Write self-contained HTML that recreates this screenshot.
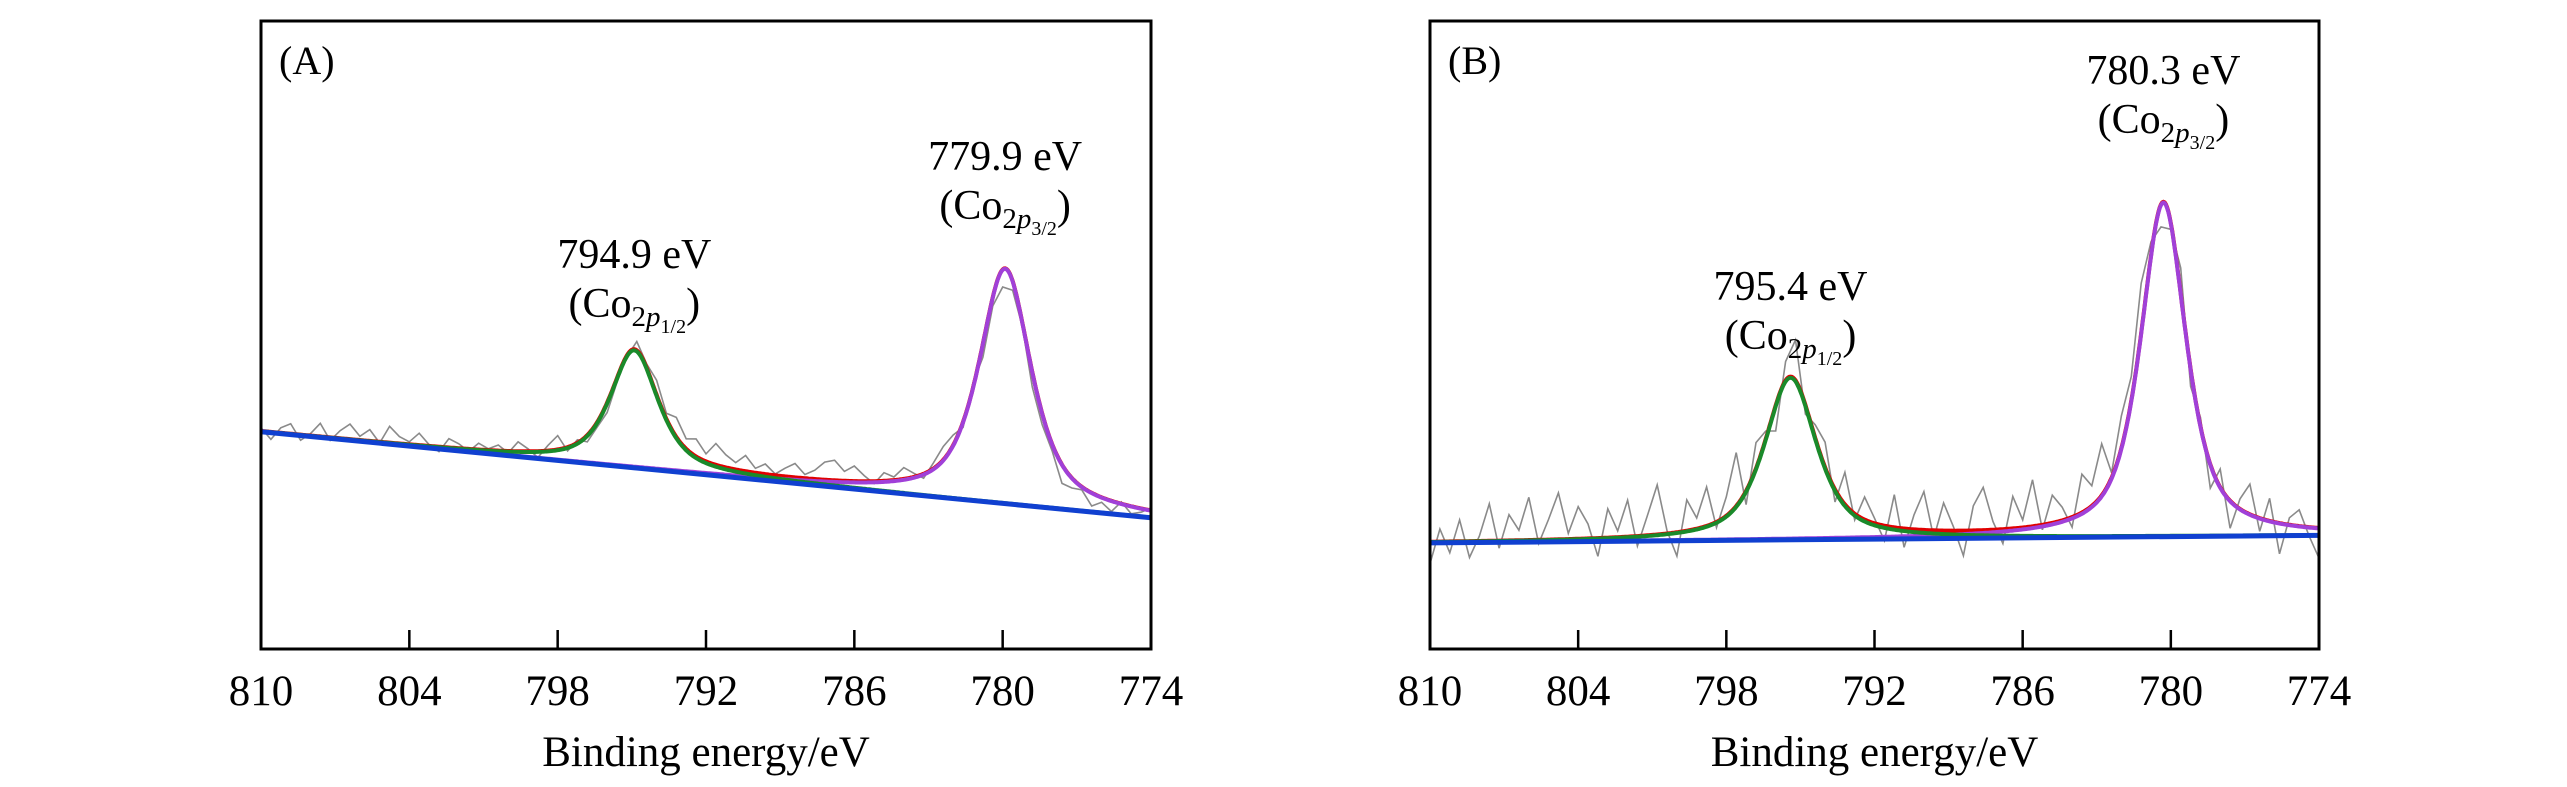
<!DOCTYPE html>
<html><head><meta charset="utf-8"><style>
body{margin:0;background:#fff}
svg{display:block;font-family:"Liberation Serif",serif}
</style></head><body>
<svg id="chart" width="2567" height="787" viewBox="0 0 2567 787" xmlns="http://www.w3.org/2000/svg"></svg>
<script>
// ---- Data ----
const xTicks = [810, 804, 798, 792, 786, 780, 774];
// Panel A
const baseA = [34.6, 20.9];              // baseline intensity at 810 eV and 774 eV
const peaksA_center = [794.9, 779.9];
const peaksA_amp = [18.7, 37.4];
const peaksA_width = [1.15, 1.25];
const labelsA = ["794.9 eV", "779.9 eV"];
const subsA = ["1/2", "3/2"];
const noiseA = [0.5,-1.2,0.8,1.6,-0.9,0.3,2.1,-0.5,1.2,2.4,0.6,1.8,-0.2,2.6,1.1,0.4,1.9,0.2,-0.8,1.4,
 0.7,-0.4,1.0,0.2,0.9,-0.3,1.5,0.4,-1.0,0.8,2.2,-0.6,0.5,-1.1,-0.8,-1.6,-0.7,-0.2,1.4,0.6,
 2.3,0.9,3.1,1.6,2.8,1.2,3.4,2.0,1.1,2.5,0.7,1.6,0.2,1.3,2.2,0.6,1.4,2.8,3.2,1.5,
 2.4,0.9,-0.4,1.3,0.5,1.8,0.6,-0.7,0.9,2.1,1.6,-0.9,0.8,-2.2,-1.4,-2.8,-1.5,-0.6,-2.4,-1.8,
 -1.1,-3.0,-1.6,-0.5,-2.1,-0.8,-1.7,0.3,-1.2,-0.6,0.4];
// Panel B
const baseB = [16.9, 18.1];
const peaksB_center = [795.4, 780.3];
const peaksB_amp = [25.8, 53.2];
const peaksB_width = [1.25, 1.1];
const labelsB = ["795.4 eV", "780.3 eV"];
const subsB = ["1/2", "3/2"];
const noiseB = [-3.5,2.0,-1.8,3.4,-2.6,0.8,5.9,-1.2,4.1,1.6,6.8,-0.6,3.2,7.4,0.9,5.1,2.3,-2.9,4.6,1.0,
 5.8,-1.6,3.1,7.9,0.4,-3.8,4.9,1.7,6.2,-0.9,3.0,8.5,-2.2,4.1,1.2,-4.1,3.0,6.4,-1.5,2.1,
 4.0,-2.0,5.1,-1.0,3.6,0.8,-2.4,5.2,-3.0,2.3,6.1,-1.2,4.4,0.6,-4.0,3.9,6.8,1.3,-2.3,5.1,
 1.2,7.4,-0.8,4.4,2.1,-1.6,6.1,3.2,8.2,0.8,5.1,3.8,7.9,2.2,-3.6,-1.0,4.1,-2.8,1.4,-3.8,
 2.9,-4.4,1.6,4.8,-2.1,3.6,-4.9,1.1,2.6,-1.4,-4.8];

// ---- Layout ----
const NS = "http://www.w3.org/2000/svg";
const svg = document.getElementById('chart');
const plotTop = 21, plotBot = 649;
function mk(tag, attrs, parent){const e=document.createElementNS(NS,tag);for(const k in attrs)e.setAttribute(k,attrs[k]);(parent||svg).appendChild(e);return e;}
function pv(x,c,a,w){const d=(x-c)/w;return a*(0.7/(1+d*d)+0.3*Math.exp(-Math.LN2*d*d));}

function panel(name, left, right, base, pc, pa, pw, noise, labels, subs, labelPos, tag){
  const g = mk('g',{});
  
  
  const X = v => left + (810 - v) / 36 * (right - left);
  const Y = v => plotBot - v / 100 * (plotBot - plotTop);
  const bl = x => base[0] + (810 - x) / 36 * (base[1] - base[0]);
  const clip = 'clip-' + tag;
  const cp = mk('clipPath',{id:clip},g); mk('rect',{x:left,y:plotTop,width:right-left,height:plotBot-plotTop},cp);
  // raw data
  let d='';
  noise.forEach((n,i)=>{const x=810-i*36/(noise.length-1);const y=bl(x)+pv(x,pc[0],pa[0],pw[0])+pv(x,pc[1],pa[1],pw[1])+n;d+=(i?'L':'M')+X(x).toFixed(1)+','+Y(y).toFixed(1);});
  const raw = mk('path',{d:d,fill:'none',stroke:'#8a8a8a','stroke-width':1.6,'clip-path':`url(#${clip})`},g);
  
  
  const curve=(f)=>{let s='';for(let i=0;i<=720;i++){const x=810-i*0.05;s+=(i?'L':'M')+X(x).toFixed(1)+','+Y(f(x)).toFixed(1);}return s;};
  const env = mk('path',{d:curve(x=>bl(x)+pv(x,pc[0],pa[0],pw[0])+pv(x,pc[1],pa[1],pw[1])),fill:'none',stroke:'#e00000','stroke-width':4,'clip-path':`url(#${clip})`},g);
  
  
  const p2 = mk('path',{d:curve(x=>bl(x)+pv(x,pc[1],pa[1],pw[1])),fill:'none',stroke:'#a040d8','stroke-width':4,'clip-path':`url(#${clip})`},g);
  
  
  const p1 = mk('path',{d:curve(x=>bl(x)+pv(x,pc[0],pa[0],pw[0])),fill:'none',stroke:'#1a8a2a','stroke-width':4,'clip-path':`url(#${clip})`},g);
  
  
  const b = mk('line',{x1:X(810),y1:Y(base[0]),x2:X(774),y2:Y(base[1]),stroke:'#1040d0','stroke-width':5},g);
  
  
  // frame
  const fr = mk('rect',{x:left,y:plotTop,width:right-left,height:plotBot-plotTop,fill:'none',stroke:'#000','stroke-width':3},g);
  
  
  xTicks.forEach(t=>{
    const tk = mk('line',{x1:X(t),x2:X(t),y1:plotBot,y2:plotBot-19,stroke:'#000','stroke-width':2.5},g);
    
    
    const tl = mk('text',{x:X(t),y:705,'text-anchor':'middle','font-size':43},g);
    tl.textContent = t;
    
    
  });
  const xt = mk('text',{x:(left+right)/2,y:766,'text-anchor':'middle','font-size':43},g);
  xt.textContent = 'Binding energy/eV';
  
  
  const pl = mk('text',{x:left+18,y:74,'font-size':40},g);
  pl.textContent = '(' + tag + ')';
  
  
  for(let k=0;k<2;k++){
    const cx = X(pc[k]), y1 = labelPos[k];
    const t1 = mk('text',{x:cx,y:y1,'text-anchor':'middle','font-size':42},g);
    t1.textContent = labels[k];
    
    
    const t2 = mk('text',{x:cx,y:y1+49,'text-anchor':'middle','font-size':42},g);
    
    
    t2.innerHTML = '(Co<tspan font-size="29" dy="9">2</tspan><tspan font-size="29" font-style="italic">p</tspan><tspan font-size="20" dy="7">'+subs[k]+'</tspan><tspan dy="-16">)</tspan>';
  }
}
panel('panel-a', 261, 1151, baseA, peaksA_center, peaksA_amp, peaksA_width, noiseA, labelsA, subsA, [268,170], 'A');
panel('panel-b', 1430, 2319, baseB, peaksB_center, peaksB_amp, peaksB_width, noiseB, labelsB, subsB, [300,84], 'B');
</script>
</body></html>
